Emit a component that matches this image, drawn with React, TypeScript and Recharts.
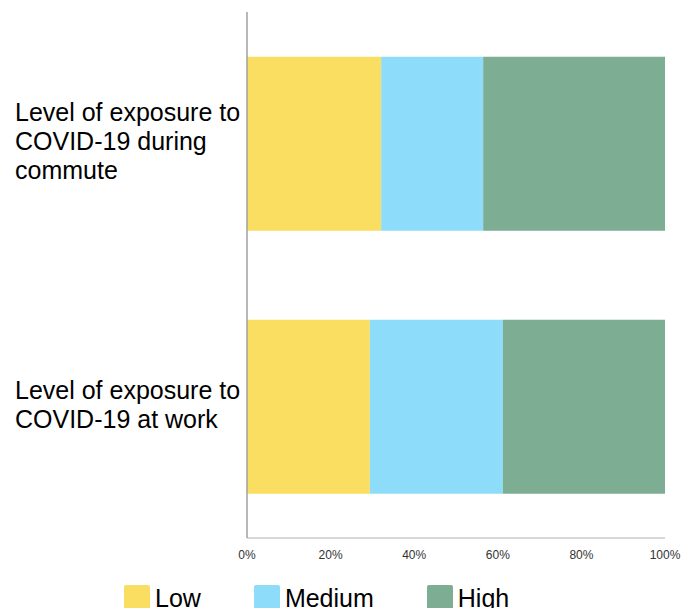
import React from 'react';
import { BarChart, Bar, XAxis, YAxis, Legend } from 'recharts';

const categories = [
  'Level of exposure to\nCOVID-19 during\ncommute',
  'Level of exposure to\nCOVID-19 at work',
];
const lowValues = [32.1, 29.4];
const mediumValues = [24.4, 31.8];
const highValues = [43.5, 38.8];
const xTicks = [0, 20, 40, 60, 80, 100];

const series = [
  { key: 'low', name: 'Low', color: '#F9DE62' },
  { key: 'medium', name: 'Medium', color: '#8DDCFA' },
  { key: 'high', name: 'High', color: '#7DAD93' },
];

const data = categories.map((c, i) => ({
  category: c,
  low: lowValues[i],
  medium: mediumValues[i],
  high: highValues[i],
}));

const FONT = '"Liberation Sans", Arial, Helvetica, sans-serif';

function CategoryTick(props: any) {
  const { y, payload } = props;
  const lines: string[] = String(payload.value).split('\n');
  const lh = 29;
  return (
    <g>
      {lines.map((line, i) => (
        <text
          key={i}
          x={15}
          y={y - 2 + (i - (lines.length - 1) / 2) * lh + 8.5}
          textAnchor="start"
          fontSize={25}
          fontFamily={FONT}
          fill="#000"
        >
          {line}
        </text>
      ))}
    </g>
  );
}

function LegendBox() {
  return (
    <div style={{ display: 'flex', height: 40, paddingLeft: 124, fontFamily: FONT }}>
      {series.map((s) => (
        <div key={s.key} style={{ display: 'flex', marginTop: 17, marginRight: 53 }}>
          <div style={{ width: 26, height: 26, background: s.color, borderRadius: 2 }} />
          <span style={{ marginLeft: 5, fontSize: 25, lineHeight: '26px', color: '#000' }}>{s.name}</span>
        </div>
      ))}
    </div>
  );
}

export default function App() {
  return (
    <div style={{ width: 687, height: 608, background: '#fff' }}>
      <style>{'body{margin:0;}'}</style>
      <BarChart
        width={687}
        height={608}
        data={data}
        layout="vertical"
        margin={{ top: 12, right: 22, bottom: 0, left: 0 }}
        barCategoryGap="17%"
      >
        <XAxis
          type="number"
          domain={[0, 100]}
          ticks={xTicks}
          tickFormatter={(v) => `${v}%`}
          tickLine={false}
          tickMargin={6}
          height={30}
          stroke="#b0b0b0"
          tick={{ fontSize: 12, fill: '#333', fontFamily: FONT }}
          interval={0}
        />
        <YAxis
          type="category"
          dataKey="category"
          width={247}
          tickLine={false}
          stroke="#a0a0a0"
          strokeWidth={1.5}
          tick={<CategoryTick />}
        />
        <Legend
          verticalAlign="bottom"
          content={() => <LegendBox />}
          wrapperStyle={{ left: 0, width: 687, height: 40 }}
        />
        {series.map((s) => (
          <Bar
            key={s.key}
            dataKey={s.key}
            name={s.name}
            stackId="a"
            fill={s.color}
            isAnimationActive={false}
          />
        ))}
      </BarChart>
    </div>
  );
}
